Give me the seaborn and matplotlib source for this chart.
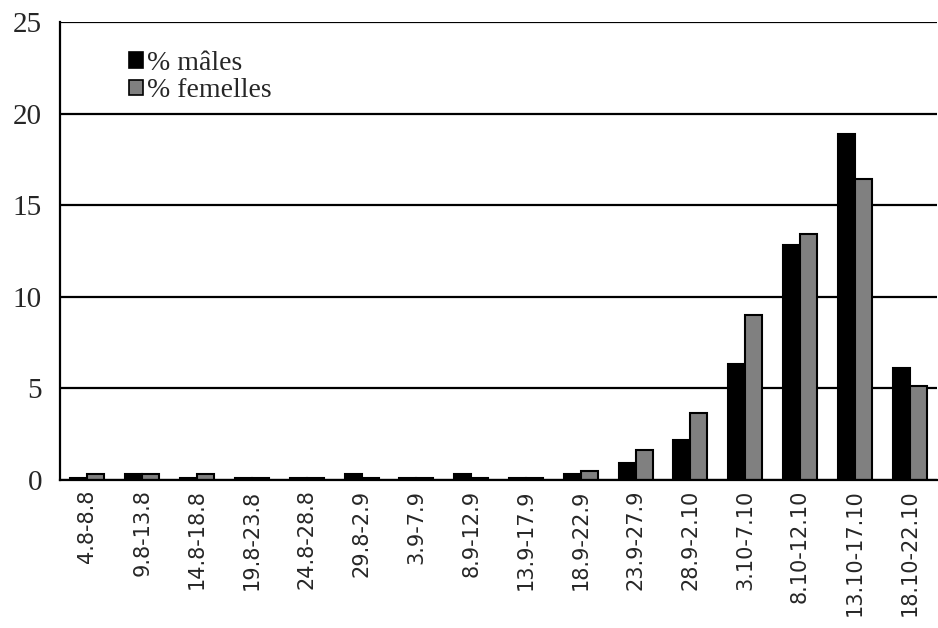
import numpy as np
import pandas as pd
import matplotlib as mpl
mpl.use("Agg")
import matplotlib.pyplot as plt
import seaborn as sns
from matplotlib.patches import Patch

periods = ["4.8-8.8", "9.8-13.8", "14.8-18.8", "19.8-23.8", "24.8-28.8", "29.8-2.9",
           "3.9-7.9", "8.9-12.9", "13.9-17.9", "18.9-22.9", "23.9-27.9", "28.9-2.10",
           "3.10-7.10", "8.10-12.10", "13.10-17.10", "18.10-22.10"]
males = [0.1, 0.3, 0.1, 0.1, 0.1, 0.3, 0.1, 0.3, 0.1, 0.3, 0.9, 2.2, 6.3, 12.8, 18.9, 6.1]
females = [0.3, 0.3, 0.3, 0.1, 0.1, 0.1, 0.1, 0.1, 0.1, 0.5, 1.6, 3.65, 9.0, 13.4, 16.4, 5.1]
series = ["% mâles", "% femelles"]
colors = ["#000000", "#808080"]

df = pd.DataFrame({
    "period": periods * 2,
    "sexe": [series[0]] * len(periods) + [series[1]] * len(periods),
    "pct": males + females,
})

sns.set_style("white")
fig = plt.figure(figsize=(9.38, 6.28), dpi=100)
ax = fig.add_axes([0.064, 0.236, 0.935, 0.729])

sns.barplot(data=df, x="period", y="pct", hue="sexe", order=periods,
            hue_order=series, palette=colors, saturation=1, width=0.62,
            edgecolor="black", linewidth=1.5, legend=False, ax=ax)

ax.set_ylim(0, 25)
ax.set_xlim(-0.5, len(periods) - 0.5)
ax.set_yticks([0, 5, 10, 15, 20, 25])
ax.yaxis.grid(True, color="black", linewidth=1.6)
ax.set_axisbelow(True)
for s in ["top", "right"]:
    ax.spines[s].set_visible(False)
for s in ["left", "bottom"]:
    ax.spines[s].set_color("black")
    ax.spines[s].set_linewidth(1.6)
ax.set_xlabel("")
ax.set_ylabel("")

ax.tick_params(axis="y", direction="out", length=8, width=1.6, color="black", pad=5,
               labelsize=21)
for t in ax.get_yticklabels():
    t.set_fontfamily("Liberation Serif")
ax.set_xticks(range(len(periods)))
ax.set_xticklabels(periods, rotation=90, fontsize=15, fontfamily="DejaVu Sans")
ax.tick_params(axis="x", length=0, pad=7)
ax.set_xticks(np.arange(-0.5, len(periods)), minor=True)
ax.tick_params(axis="x", which="minor", direction="inout", length=12, width=1.6,
               color="black")

handles = [Patch(facecolor=c, edgecolor="black", linewidth=1.2) for c in colors]
ax.legend(handles, series, loc="upper left", bbox_to_anchor=(0.05, 0.992),
          frameon=False, prop={"family": "Liberation Serif", "size": 20},
          handlelength=0.5, handleheight=0.5, handletextpad=0.15, labelspacing=0.1)

fig.savefig("out.png", dpi=100)
